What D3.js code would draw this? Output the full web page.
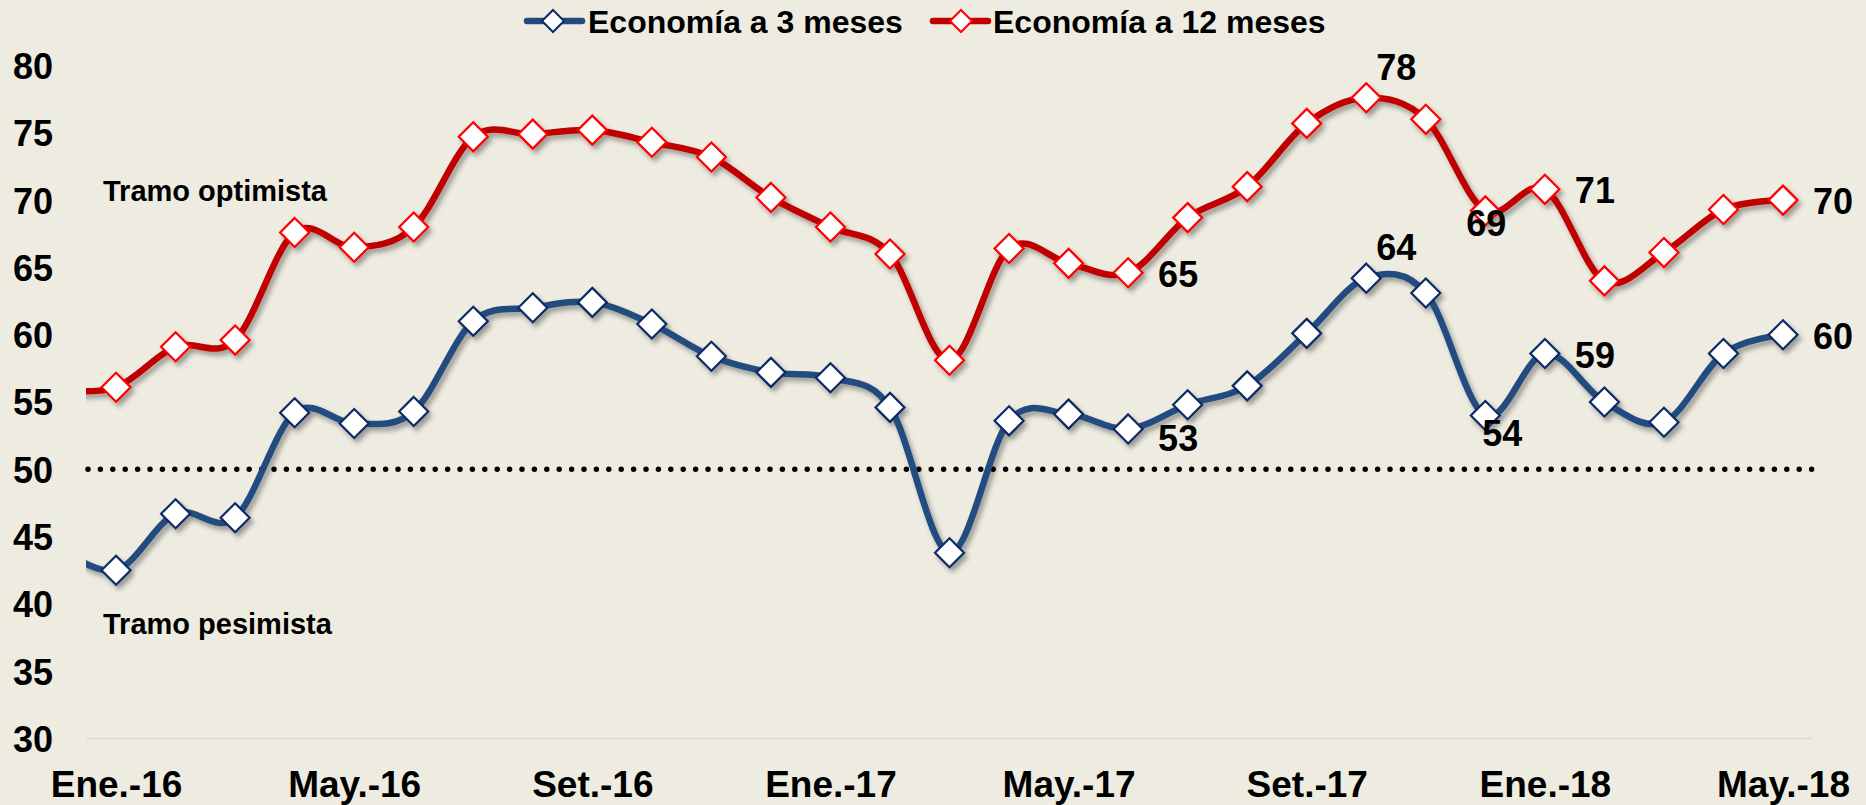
<!DOCTYPE html>
<html>
<head>
<meta charset="utf-8">
<script src="https://cdn.jsdelivr.net/npm/d3@7/dist/d3.min.js"></script>
<style>
  html, body { margin: 0; padding: 0; background: #EEECE1; }
  svg { display: block; }
  text { font-family: "Liberation Sans", Arial, sans-serif; font-weight: bold; fill: #000; }
</style>
</head>
<body>
<svg id="chart" width="1866" height="805"></svg>
<script>
// ---------- DATA ----------
const months = ["Dic.-15","Ene.-16","Feb.-16","Mar.-16","Abr.-16","May.-16","Jun.-16","Jul.-16","Ago.-16","Set.-16","Oct.-16","Nov.-16","Dic.-16",
  "Ene.-17","Feb.-17","Mar.-17","Abr.-17","May.-17","Jun.-17","Jul.-17","Ago.-17","Set.-17","Oct.-17","Nov.-17","Dic.-17",
  "Ene.-18","Feb.-18","Mar.-18","Abr.-18","May.-18"];
const economia3 = [44.3,42.5,46.7,46.4,54.2,53.4,54.3,61.0,62.0,62.4,60.8,58.4,57.2,56.8,54.6,43.8,53.6,54.1,53.0,54.8,56.2,60.1,64.2,63.1,54.0,58.6,55.0,53.5,58.6,60.0];
const economia12 = [55.9,56.1,59.1,59.6,67.6,66.5,68.0,74.7,74.9,75.2,74.3,73.2,70.2,68.0,66.0,58.1,66.4,65.3,64.6,68.7,71.0,75.7,77.6,76.0,69.2,70.8,64.0,66.1,69.3,70.0];
const xTickLabels = ["Ene.-16","May.-16","Set.-16","Ene.-17","May.-17","Set.-17","Ene.-18","May.-18"];
const yTicks = [30,35,40,45,50,55,60,65,70,75,80];
const seriesNames = ["Economía a 3 meses","Economía a 12 meses"];
const threshold = 50;
const zoneLabels = ["Tramo optimista","Tramo pesimista"];
// data labels: series (0 = 3 meses, 1 = 12 meses), month, placement
const dataLabels = [
  {s:1, m:"Jun.-17", p:"right"},
  {s:0, m:"Jun.-17", p:"rightLow"},
  {s:1, m:"Oct.-17", p:"aboveRight"},
  {s:0, m:"Oct.-17", p:"aboveRight"},
  {s:1, m:"Dic.-17", p:"over"},
  {s:0, m:"Dic.-17", p:"below"},
  {s:1, m:"Ene.-18", p:"right"},
  {s:0, m:"Ene.-18", p:"right"},
  {s:1, m:"May.-18", p:"right"},
  {s:0, m:"May.-18", p:"right"}
];

// ---------- LAYOUT / STYLE ----------
const W = 1866, H = 805;
const plotLeft = 86, plotRight = 1812;
const colors = {
  line: ["#234B80", "#C00000"],
  marker: ["#0B2A66", "#FF0000"]
};
const svg = d3.select("#chart");
svg.append("rect").attr("width", W).attr("height", H).attr("fill", "#EEECE1");

const x = d3.scalePoint().domain(months).range([56.5, 1783]);
const y = d3.scaleLinear().domain([30, 80]).range([738.5, 65.5]);

const defs = svg.append("defs");
const f = defs.append("filter").attr("id", "shadow").attr("x", "-20%").attr("y", "-20%").attr("width", "140%").attr("height", "140%");
f.append("feDropShadow").attr("dx", 3).attr("dy", 4).attr("stdDeviation", 2.5)
  .attr("flood-color", "#000").attr("flood-opacity", 0.35);
defs.append("clipPath").attr("id", "plotclip").append("rect")
  .attr("x", plotLeft).attr("y", 0).attr("width", plotRight - plotLeft + 40).attr("height", H);

// baseline gridline at 30
svg.append("line")
  .attr("x1", plotLeft).attr("x2", plotRight)
  .attr("y1", y(30)).attr("y2", y(30))
  .attr("stroke", "#D9D9D9").attr("stroke-width", 1.5);

// y axis labels
const yAxis = d3.axisLeft(y).tickValues(yTicks).tickSize(0).tickPadding(0);
const gy = svg.append("g").attr("transform", "translate(53,0)").call(yAxis);
gy.select(".domain").remove();
gy.selectAll("text")
  .attr("font-size", 36).attr("font-family", '"Liberation Sans", Arial, sans-serif')
  .attr("font-weight", "bold").attr("fill", "#000").attr("dy", "0.36em").attr("x", 0);

// x axis labels
const xAxis = d3.axisBottom(x).tickValues(xTickLabels).tickSize(0).tickPadding(0);
const gx = svg.append("g").attr("transform", "translate(0,770)").call(xAxis);
gx.select(".domain").remove();
gx.selectAll("text")
  .attr("font-size", 37).attr("font-family", '"Liberation Sans", Arial, sans-serif')
  .attr("font-weight", "bold").attr("fill", "#000").attr("dy", "0.73em").attr("y", 0);

// threshold dotted line
svg.append("line")
  .attr("x1", plotLeft + 2).attr("x2", plotRight)
  .attr("y1", y(threshold)).attr("y2", y(threshold))
  .attr("stroke", "#000").attr("stroke-width", 5.5)
  .attr("stroke-linecap", "round").attr("stroke-dasharray", "0,12.4");

// zone labels
svg.append("text").attr("x", 103).attr("y", 201).attr("font-size", 29).text(zoneLabels[0]);
svg.append("text").attr("x", 103).attr("y", 634).attr("font-size", 29).text(zoneLabels[1]);

// series
const series = [economia3, economia12];
const line = d3.line().x((d, i) => x(months[i])).y(d => y(d)).curve(d3.curveCatmullRom.alpha(0));
const plot = svg.append("g").attr("clip-path", "url(#plotclip)");
const diamond = (cx, cy, r) => `M${cx},${cy - r}L${cx + r},${cy}L${cx},${cy + r}L${cx - r},${cy}Z`;

series.forEach((vals, s) => {
  const g = plot.append("g").attr("filter", "url(#shadow)");
  g.append("path").datum(vals).attr("d", line)
    .attr("fill", "none").attr("stroke", colors.line[s]).attr("stroke-width", 6.5)
    .attr("stroke-linejoin", "round");
  g.selectAll("path.mk").data(vals.map((v, i) => ({v, i})).filter(d => d.i > 0)).enter()
    .append("path").attr("class", "mk")
    .attr("d", d => diamond(x(months[d.i]), y(d.v), 14.5))
    .attr("fill", "#fff").attr("stroke", colors.marker[s]).attr("stroke-width", 2.2);
});

// data labels
const place = {
  right:      {dx: 30, dy: 1,   anchor: "start"},
  rightLow:   {dx: 30, dy: 9,   anchor: "start"},
  aboveRight: {dx: 30, dy: -31, anchor: "middle"},
  over:       {dx: 1,  dy: 12,  anchor: "middle"},
  below:      {dx: 17, dy: 18,  anchor: "middle"}
};
dataLabels.forEach(l => {
  const i = months.indexOf(l.m);
  const v = series[l.s][i];
  const p = place[l.p];
  svg.append("text")
    .attr("x", x(l.m) + p.dx).attr("y", y(v) + p.dy)
    .attr("dy", "0.36em").attr("text-anchor", p.anchor)
    .attr("font-size", 36).text(Math.round(v));
});

// legend
const legend = [
  {lx1: 527, lx2: 582, mx: 553, tx: 588},
  {lx1: 933, lx2: 988, mx: 961, tx: 993}
];
legend.forEach((L, s) => {
  const ly = 21;
  svg.append("line").attr("x1", L.lx1).attr("x2", L.lx2).attr("y1", ly).attr("y2", ly)
    .attr("stroke", colors.line[s]).attr("stroke-width", 6.5).attr("stroke-linecap", "round");
  svg.append("path").attr("d", diamond(L.mx, ly, 11))
    .attr("fill", "#fff").attr("stroke", colors.marker[s]).attr("stroke-width", 2);
  svg.append("text").attr("x", L.tx).attr("y", 33).attr("font-size", 32).text(seriesNames[s]);
});
</script>
</body>
</html>
